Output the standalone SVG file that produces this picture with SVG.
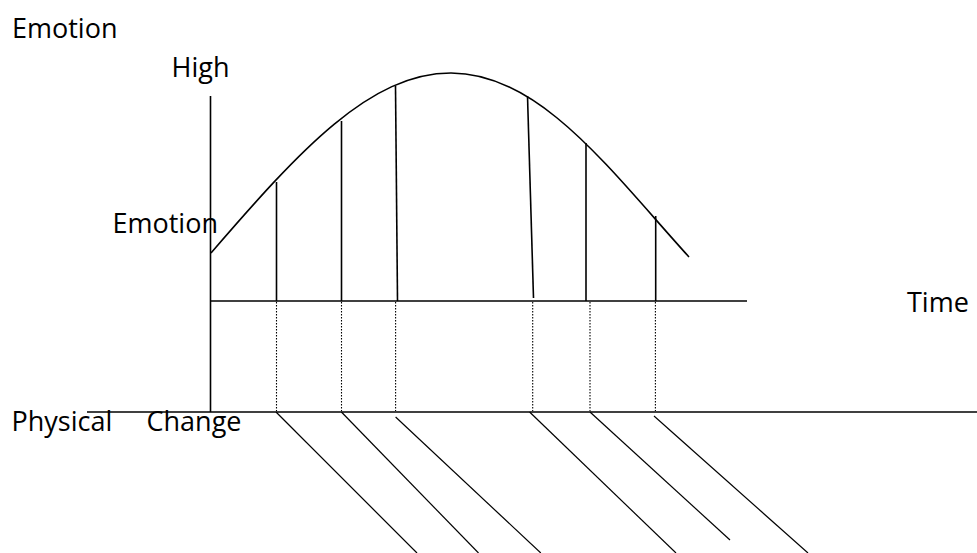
<svg xmlns="http://www.w3.org/2000/svg" width="977" height="553" viewBox="0 0 977 553">
<style>
.t{font-family:"Open Sans","Liberation Sans",sans-serif;font-size:27px;fill:#000}
.s{stroke:#000;stroke-width:1.6;fill:none}
.d{stroke:#000;stroke-width:1.1;stroke-dasharray:1.5 1.5;fill:none}
.g{stroke:#000;stroke-width:1.2;fill:none}
</style>
<rect width="977" height="553" fill="#fff"/>
<g id="axes">
<line class="s" x1="210.5" y1="96" x2="210.5" y2="412"/>
<line class="s" x1="210" y1="301" x2="747" y2="301"/>
<line class="s" x1="87" y1="412" x2="977" y2="412"/>
</g>
<g id="curve">
<path class="s" d="M211,253 C300,150 370,73 451,73 C540,73 610,170 689,257"/>
</g>
<g id="connectors">
<line class="s" x1="276.5" y1="182" x2="276.5" y2="301"/>
<line class="s" x1="341.5" y1="121" x2="341.5" y2="301"/>
<line class="s" x1="395.5" y1="86" x2="397.5" y2="301"/>
<line class="s" x1="527.5" y1="96" x2="533.5" y2="298"/>
<line class="s" x1="586" y1="143" x2="586" y2="301"/>
<line class="s" x1="655.7" y1="216" x2="655.7" y2="301"/>
<line class="d" x1="276.5" y1="302" x2="276.5" y2="411"/>
<line class="d" x1="341.5" y1="302" x2="341.5" y2="411"/>
<line class="d" x1="395.6" y1="302" x2="395.6" y2="411"/>
<line class="d" x1="532.7" y1="302" x2="532.7" y2="411"/>
<line class="d" x1="590" y1="302" x2="590" y2="411"/>
<line class="d" x1="655.4" y1="302" x2="655.4" y2="411"/>
<line class="g" x1="276" y1="412" x2="417" y2="553"/>
<line class="g" x1="341.4" y1="412" x2="478.5" y2="553"/>
<line class="g" x1="395.6" y1="417" x2="540.8" y2="553"/>
<line class="g" x1="529.6" y1="412" x2="676" y2="553"/>
<line class="g" x1="590" y1="412" x2="730" y2="540"/>
<line class="g" x1="654" y1="416" x2="808" y2="553"/>
</g>
<g id="labels">
<text class="t" x="12" y="38">Emotion</text>
<text class="t" x="171.5" y="77">High</text>
<text class="t" x="112.5" y="232.5">Emotion</text>
<text class="t" x="907" y="312">Time</text>
<text class="t" x="11.5" y="431">Physical</text>
<text class="t" x="146.5" y="431">Change</text>
</g>
</svg>
